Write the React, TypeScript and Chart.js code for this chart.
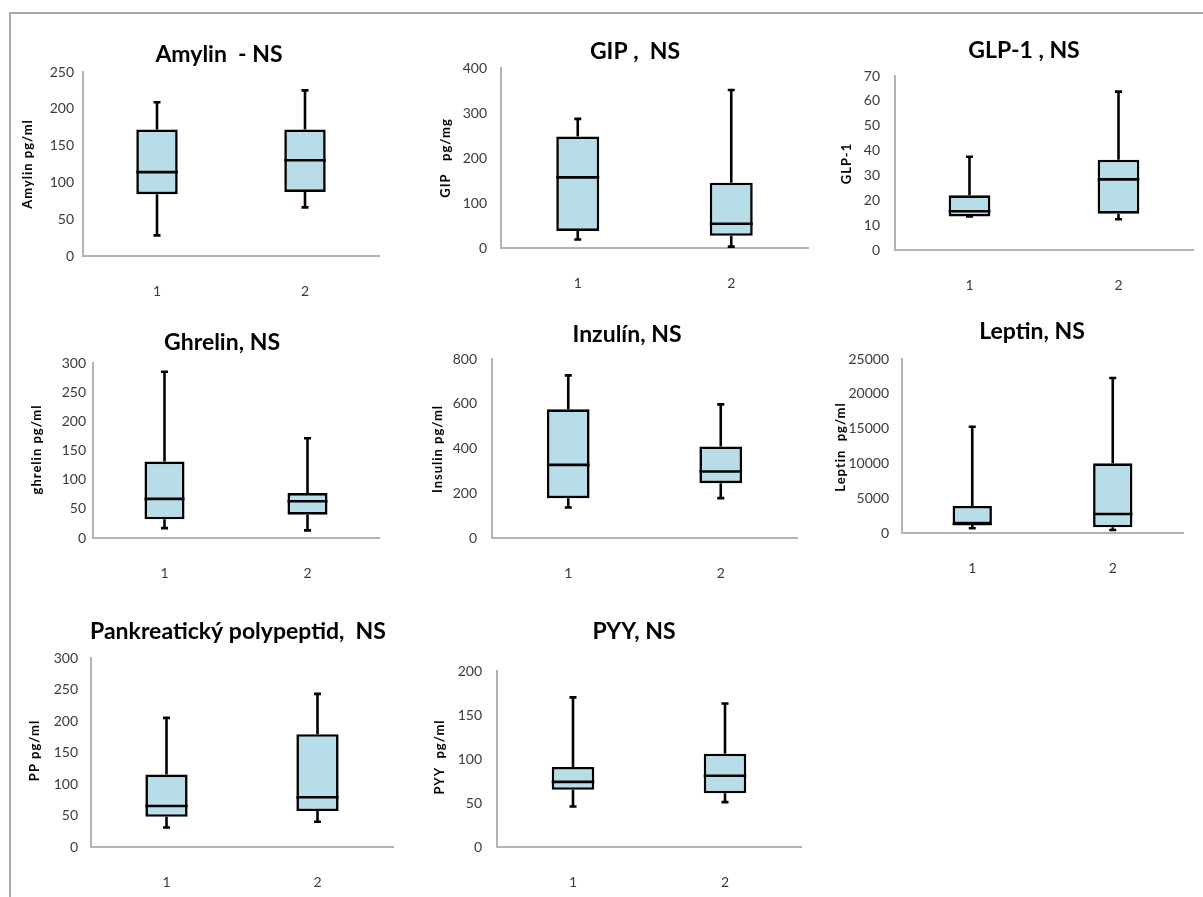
import { useEffect, useRef } from 'react';
import { Chart, registerables } from 'chart.js';

Chart.register(...registerables);

const categories = ['1', '2'];

// Amylin
const amylinMin = [28, 66];
const amylinQ1 = [84, 87];
const amylinMedian = [114, 130];
const amylinQ3 = [172, 172];
const amylinMax = [209, 225];
const amylinTicks = { max: 250, step: 50 };

// GIP
const gipMin = [19, 3];
const gipQ1 = [38, 27];
const gipMedian = [157, 54];
const gipQ3 = [248, 145];
const gipMax = [287, 351];
const gipTicks = { max: 400, step: 100 };

// GLP-1
const glpMin = [13.5, 12.4];
const glpQ1 = [13.5, 14.6];
const glpMedian = [15.6, 28.4];
const glpQ3 = [22, 36.3];
const glpMax = [37.5, 63.7];
const glpTicks = { max: 70, step: 10 };

// Ghrelin
const ghrelinMin = [17, 13];
const ghrelinQ1 = [32, 40];
const ghrelinMedian = [67, 63];
const ghrelinQ3 = [131, 77];
const ghrelinMax = [285, 171];
const ghrelinTicks = { max: 300, step: 50 };

// Insulin
const insulinMin = [136, 178];
const insulinQ1 = [178, 245];
const insulinMedian = [327, 297];
const insulinQ3 = [575, 409];
const insulinMax = [727, 597];
const insulinTicks = { max: 800, step: 200 };

// Leptin
const leptinMin = [675, 430];
const leptinQ1 = [1290, 820];
const leptinMedian = [1290, 2730];
const leptinQ3 = [3880, 10010];
const leptinMax = [15270, 22270];
const leptinTicks = { max: 25000, step: 5000 };

// Pancreatic polypeptide
const ppMin = [31, 40];
const ppQ1 = [48, 57];
const ppMedian = [65, 79];
const ppQ3 = [115, 179];
const ppMax = [205, 243];
const ppTicks = { max: 300, step: 50 };

// PYY
const pyyMin = [46, 51];
const pyyQ1 = [65, 61];
const pyyMedian = [74, 81];
const pyyQ3 = [91, 106];
const pyyMax = [170, 163];
const pyyTicks = { max: 200, step: 50 };

type Series = { min: number[]; q1: number[]; median: number[]; q3: number[]; max: number[] };

const panels = [
  {
    title: 'Amylin  - NS', yTitle: 'Amylin pg/ml',
    s: { min: amylinMin, q1: amylinQ1, median: amylinMedian, q3: amylinQ3, max: amylinMax }, t: amylinTicks,
    x0: 83, x1: 379, yTop: 72, yBot: 256, pad: 9, tx: 219, ty: 55, ytx: 28, yty: 164,
  },
  {
    title: 'GIP ,  NS', yTitle: 'GIP   pg/mg',
    s: { min: gipMin, q1: gipQ1, median: gipMedian, q3: gipQ3, max: gipMax }, t: gipTicks,
    x0: 501, x1: 808, yTop: 68, yBot: 248, pad: 14, tx: 635, ty: 52, ytx: 446, yty: 158,
  },
  {
    title: 'GLP-1 , NS', yTitle: 'GLP-1',
    s: { min: glpMin, q1: glpQ1, median: glpMedian, q3: glpQ3, max: glpMax }, t: glpTicks,
    x0: 895, x1: 1193, yTop: 75.5, yBot: 249, pad: 15, tx: 1024, ty: 50, ytx: 847, yty: 163,
  },
  {
    title: 'Ghrelin, NS', yTitle: 'ghrelin pg/ml',
    s: { min: ghrelinMin, q1: ghrelinQ1, median: ghrelinMedian, q3: ghrelinQ3, max: ghrelinMax }, t: ghrelinTicks,
    x0: 93, x1: 379, yTop: 362.5, yBot: 537, pad: 7, tx: 222, ty: 342, ytx: 37, yty: 449,
  },
  {
    title: 'Inzulín, NS', yTitle: 'Insulin pg/ml',
    s: { min: insulinMin, q1: insulinQ1, median: insulinMedian, q3: insulinQ3, max: insulinMax }, t: insulinTicks,
    x0: 492, x1: 797, yTop: 359, yBot: 537.7, pad: 15, tx: 627, ty: 335, ytx: 438, yty: 449,
  },
  {
    title: 'Leptin, NS', yTitle: 'Leptin  pg/ml',
    s: { min: leptinMin, q1: leptinQ1, median: leptinMedian, q3: leptinQ3, max: leptinMax }, t: leptinTicks,
    x0: 902, x1: 1183, yTop: 359, yBot: 533, pad: 13, tx: 1032, ty: 332, ytx: 841, yty: 447,
  },
  {
    title: 'Pankreatický polypeptid,  NS', yTitle: 'PP pg/ml',
    s: { min: ppMin, q1: ppQ1, median: ppMedian, q3: ppQ3, max: ppMax }, t: ppTicks,
    x0: 91, x1: 393, yTop: 657.5, yBot: 846.5, pad: 13, tx: 238, ty: 631, ytx: 35, yty: 750,
  },
  {
    title: 'PYY, NS', yTitle: 'PYY  pg/ml',
    s: { min: pyyMin, q1: pyyQ1, median: pyyMedian, q3: pyyQ3, max: pyyMax }, t: pyyTicks,
    x0: 497, x1: 801, yTop: 671, yBot: 847, pad: 15, tx: 634, ty: 632, ytx: 440, yty: 757,
  },
];

const L = 75;
const T = 58;
const R = 6;
const B = 45;

const FILL = '#b7dee8';
const AXIS = '#b4b4b4';
const TICK = '#3a3a3a';

const boxPlugin = {
  id: 'boxWhiskers',
  beforeDatasetsDraw(chart: any, _args: any, opts: any) {
    const s: Series = opts.series;
    const { ctx } = chart;
    const xs = chart.scales.x;
    const ys = chart.scales.y;
    ctx.save();
    ctx.strokeStyle = '#000';
    ctx.lineWidth = 2.6;
    ctx.lineCap = 'butt';
    s.max.forEach((_v, i) => {
      const x = xs.getPixelForValue(i);
      const yMax = ys.getPixelForValue(s.max[i]);
      const yQ3 = ys.getPixelForValue(s.q3[i]);
      const yQ1 = ys.getPixelForValue(s.q1[i]);
      const yMin = ys.getPixelForValue(s.min[i]);
      ctx.beginPath();
      ctx.moveTo(x, yQ3);
      ctx.lineTo(x, yMax);
      ctx.moveTo(x - 3.5, yMax);
      ctx.lineTo(x + 3.5, yMax);
      ctx.moveTo(x, yQ1);
      ctx.lineTo(x, yMin);
      ctx.moveTo(x - 3.5, yMin);
      ctx.lineTo(x + 3.5, yMin);
      ctx.stroke();
    });
    ctx.restore();
  },
  afterDatasetsDraw(chart: any, _args: any, opts: any) {
    const s: Series = opts.series;
    const { ctx } = chart;
    const ys = chart.scales.y;
    const meta = chart.getDatasetMeta(0);
    ctx.save();
    ctx.strokeStyle = '#000';
    ctx.lineWidth = 2.6;
    s.median.forEach((m, i) => {
      const bar = meta.data[i];
      const y = ys.getPixelForValue(m);
      ctx.beginPath();
      ctx.moveTo(bar.x - bar.width / 2, y);
      ctx.lineTo(bar.x + bar.width / 2, y);
      ctx.stroke();
    });
    ctx.restore();
  },
  afterDraw(chart: any, _args: any, opts: any) {
    const { ctx } = chart;
    ctx.save();
    ctx.fillStyle = '#000';
    ctx.textAlign = 'center';
    ctx.textBaseline = 'middle';
    ctx.font = 'bold 23px Lato';
    ctx.fillText(opts.title, opts.tx, opts.ty);
    ctx.translate(opts.ytx, opts.yty);
    ctx.rotate(-Math.PI / 2);
    ctx.font = 'bold 13px Lato';
    try { (ctx as any).letterSpacing = '1px'; } catch (e) { /* ignore */ }
    ctx.fillText(opts.yTitle, 0, 0);
    ctx.restore();
  },
};

function Panel({ p }: { p: (typeof panels)[number] }) {
  const ref = useRef<HTMLCanvasElement | null>(null);
  const left = p.x0 - L;
  const top = p.yTop - T;
  const width = Math.round(p.x1 - p.x0 + L + R);
  const height = Math.round(p.yBot - p.yTop + T + B);

  useEffect(() => {
    if (!ref.current) return;
    const chart = new Chart(ref.current, {
      type: 'bar',
      data: {
        labels: categories,
        datasets: [
          {
            data: p.s.q1.map((v, i) => [v, p.s.q3[i]]) as any,
            backgroundColor: FILL,
            borderColor: '#000',
            borderWidth: 2.6,
            borderSkipped: false,
            barPercentage: 0.28,
            categoryPercentage: 1,
          },
        ],
      },
      options: {
        responsive: false,
        animation: false,
        events: [],
        layout: { padding: { left: 0, top: T, right: R, bottom: 0 } },
        plugins: {
          legend: { display: false },
          tooltip: { enabled: false },
          title: { display: false },
          boxWhiskers: {
            series: p.s,
            title: p.title,
            tx: p.tx - left,
            ty: p.ty - top,
            yTitle: p.yTitle,
            ytx: p.ytx - left,
            yty: p.yty - top,
          },
        } as any,
        scales: {
          x: {
            type: 'category',
            offset: true,
            grid: { display: false },
            border: { display: true, color: AXIS, width: 2 },
            ticks: { color: TICK, font: { family: 'Lato', size: 14 }, padding: 19 },
            afterFit: (scale: any) => { scale.height = B; },
          },
          y: {
            type: 'linear',
            min: 0,
            max: p.t.max,
            grid: { display: false, drawTicks: false },
            border: { display: true, color: AXIS, width: 2 },
            ticks: {
              stepSize: p.t.step,
              color: TICK,
              font: { family: 'Lato', size: 14 },
              padding: p.pad,
              callback: (v: any) => String(v),
            },
            afterFit: (scale: any) => { scale.width = L; },
          },
        },
      },
      plugins: [boxPlugin],
    });
    return () => chart.destroy();
  }, []);

  return (
    <canvas
      ref={ref}
      width={width}
      height={height}
      style={{ position: 'absolute', left, top, width, height }}
    />
  );
}

export default function App() {
  return (
    <div style={{ position: 'absolute', left: 0, top: 0, width: 1203, height: 897, overflow: 'hidden', background: '#fff' }}>
      <div
        style={{
          position: 'absolute', left: 9, top: 12, width: 1194, height: 885,
          borderTop: '2px solid #aaaaaa', borderLeft: '2px solid #aaaaaa', boxSizing: 'border-box',
        }}
      />
      {panels.map((p, i) => (
        <Panel key={i} p={p} />
      ))}
    </div>
  );
}
